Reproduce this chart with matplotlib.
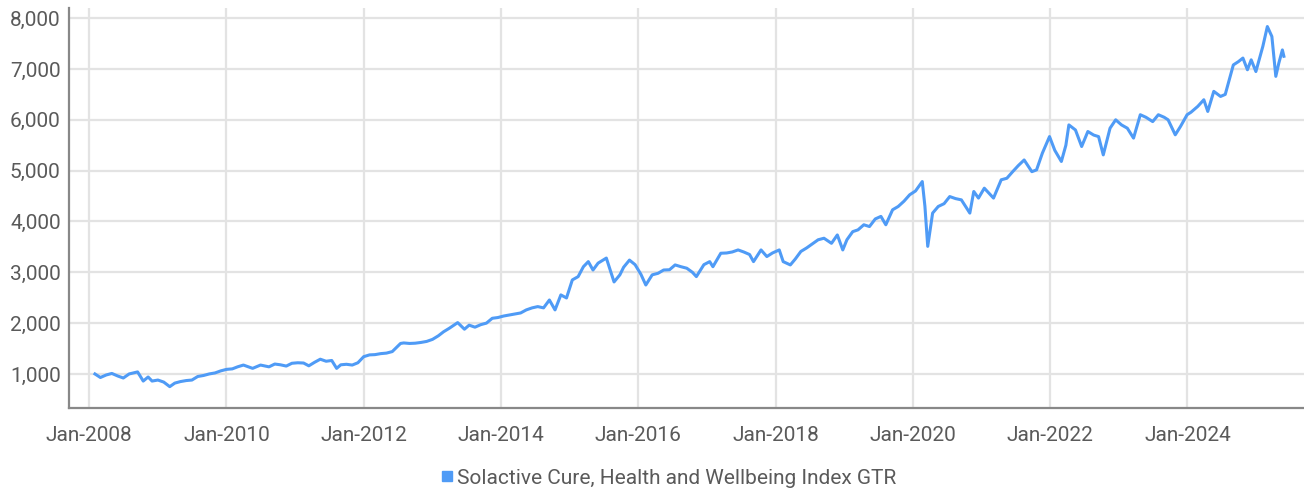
import pandas as pd
import matplotlib.pyplot as plt
import matplotlib.dates as mdates
import matplotlib.ticker as mticker
from matplotlib.lines import Line2D

# Index level (approx. monthly, extra points around sharp moves)
dates = [
    '2008-02-01', '2008-03-01', '2008-04-01', '2008-05-01', '2008-06-01', '2008-07-01',
    '2008-08-01', '2008-09-15', '2008-10-15', '2008-11-10', '2008-12-01',
    '2009-01-01', '2009-02-01', '2009-03-05', '2009-04-01', '2009-05-01', '2009-06-01',
    '2009-07-01', '2009-08-01', '2009-09-01', '2009-10-01', '2009-11-01', '2009-12-01',
    '2010-01-01', '2010-02-01', '2010-03-01', '2010-04-01', '2010-05-20', '2010-06-15',
    '2010-07-01', '2010-08-15', '2010-09-15', '2010-10-15', '2010-11-15', '2010-12-15',
    '2011-01-15', '2011-02-15', '2011-03-15', '2011-04-15', '2011-05-15', '2011-06-15',
    '2011-07-15', '2011-08-10', '2011-09-01', '2011-10-01', '2011-11-01', '2011-12-01',
    '2012-01-01', '2012-02-01', '2012-03-01', '2012-04-01', '2012-05-01', '2012-06-01',
    '2012-07-15', '2012-08-01', '2012-09-01', '2012-10-01', '2012-11-01', '2012-12-01',
    '2013-01-01', '2013-02-01', '2013-03-01', '2013-04-01', '2013-05-15', '2013-06-20',
    '2013-07-15', '2013-08-15', '2013-09-15', '2013-10-15', '2013-11-15', '2013-12-15',
    '2014-01-15', '2014-02-15', '2014-03-15', '2014-04-15', '2014-05-15', '2014-06-15',
    '2014-07-15', '2014-08-15', '2014-09-15', '2014-10-15', '2014-11-15', '2014-12-15',
    '2015-01-15', '2015-02-15', '2015-03-15', '2015-04-10', '2015-05-05', '2015-06-01',
    '2015-07-15', '2015-08-25', '2015-09-25', '2015-10-15', '2015-11-15', '2015-12-15',
    '2016-01-15', '2016-02-10', '2016-03-15', '2016-04-15', '2016-05-15', '2016-06-15',
    '2016-07-15', '2016-08-15', '2016-09-15', '2016-10-15', '2016-11-05', '2016-12-15',
    '2017-01-15', '2017-02-01', '2017-03-15', '2017-04-15', '2017-05-15', '2017-06-15',
    '2017-07-15', '2017-08-15', '2017-09-05', '2017-10-15', '2017-11-15', '2017-12-15',
    '2018-01-20', '2018-02-10', '2018-03-20', '2018-04-15', '2018-05-15', '2018-06-15',
    '2018-07-15', '2018-08-15', '2018-09-15', '2018-10-25', '2018-11-25', '2018-12-24',
    '2019-01-15', '2019-02-15', '2019-03-15', '2019-04-15', '2019-05-15', '2019-06-15',
    '2019-07-15', '2019-08-10', '2019-09-15', '2019-10-15', '2019-11-15', '2019-12-15',
    '2020-01-15', '2020-02-20', '2020-03-05', '2020-03-20', '2020-04-15', '2020-05-15',
    '2020-06-15', '2020-07-15', '2020-08-15', '2020-09-15', '2020-10-30', '2020-11-20',
    '2020-12-15', '2021-01-15', '2021-03-05', '2021-04-15', '2021-05-15', '2021-06-15',
    '2021-07-15', '2021-08-15', '2021-09-25', '2021-10-20', '2021-11-20', '2021-12-28',
    '2022-01-25', '2022-03-01', '2022-03-25', '2022-04-10', '2022-05-15', '2022-06-17',
    '2022-07-20', '2022-08-20', '2022-09-15', '2022-10-10', '2022-11-15', '2022-12-15',
    '2023-01-15', '2023-02-15', '2023-03-20', '2023-04-25', '2023-05-25', '2023-06-30',
    '2023-07-30', '2023-08-30', '2023-09-20', '2023-10-28', '2023-11-25', '2023-12-30',
    '2024-01-20', '2024-02-25', '2024-03-28', '2024-04-18', '2024-05-20', '2024-06-25',
    '2024-07-20', '2024-08-10', '2024-09-01', '2024-09-28', '2024-10-22', '2024-11-15',
    '2024-12-05', '2024-12-30', '2025-02-05', '2025-03-01', '2025-03-25', '2025-04-15',
    '2025-05-01', '2025-05-20', '2025-05-28',
]
values = [
    1000, 930, 980, 1010, 960, 920,
    1000, 1040, 860, 940, 860,
    880, 840, 750, 820, 850, 870,
    880, 950, 970, 1000, 1020, 1060,
    1090, 1100, 1140, 1175, 1110, 1150,
    1175, 1140, 1195, 1180, 1155, 1210,
    1220, 1215, 1160, 1230, 1290, 1250,
    1265, 1110, 1180, 1190, 1175, 1220,
    1340, 1375, 1380, 1400, 1410, 1440,
    1600, 1610, 1600, 1605, 1620, 1640,
    1680, 1750, 1830, 1900, 2010, 1880,
    1960, 1920, 1970, 2000, 2095, 2110,
    2140, 2160, 2180, 2200, 2260, 2300,
    2325, 2300, 2455, 2260, 2555, 2495,
    2850, 2915, 3110, 3210, 3045, 3180,
    3280, 2810, 2950, 3100, 3240, 3150,
    2960, 2750, 2950, 2980, 3045, 3050,
    3145, 3110, 3080, 3000, 2915, 3150,
    3210, 3110, 3375, 3380, 3400, 3440,
    3400, 3350, 3210, 3440, 3310, 3380,
    3440, 3210, 3145, 3260, 3410, 3480,
    3560, 3640, 3670, 3570, 3735, 3440,
    3640, 3800, 3835, 3935, 3900, 4050,
    4100, 3935, 4230, 4295, 4400, 4525,
    4600, 4785, 4300, 3510, 4165, 4295,
    4350, 4490, 4450, 4425, 4165, 4590,
    4460, 4655, 4460, 4820, 4850, 4980,
    5100, 5210, 4980, 5015, 5345, 5670,
    5400, 5180, 5500, 5900, 5800, 5475,
    5770, 5700, 5670, 5310, 5835, 6000,
    5900, 5835, 5640, 6100, 6050, 5965,
    6100, 6050, 6000, 5705, 5870, 6100,
    6150, 6265, 6395, 6165, 6560, 6460,
    6500, 6785, 7080, 7145, 7215, 6985,
    7180, 6950, 7445, 7835, 7640, 6855,
    7115, 7375, 7250,
]
series_name = 'Solactive Cure, Health and Wellbeing Index GTR'
tick_years = [2008, 2010, 2012, 2014, 2016, 2018, 2020, 2022, 2024]
y_ticks = [1000, 2000, 3000, 4000, 5000, 6000, 7000, 8000]

plt.rcParams['font.family'] = ['Roboto', 'DejaVu Sans']

line_color = '#4f9bf6'
text_color = '#5a5a5a'

x = pd.to_datetime(dates)

fig = plt.figure(figsize=(13.04, 4.93), dpi=100)
ax = fig.add_axes([69 / 1304, 1 - 408 / 493, 1 - 69 / 1304, 400 / 493])

ax.plot(x, values, color=line_color, linewidth=2.2)

ax.set_xlim(pd.Timestamp('2007-09-16'), pd.Timestamp('2025-09-12'))
ax.set_ylim(330, 8200)

ax.set_xticks([pd.Timestamp(f'{yr}-01-01') for yr in tick_years])
ax.xaxis.set_major_formatter(mdates.DateFormatter('%b-%Y'))
ax.set_yticks(y_ticks)
ax.yaxis.set_major_formatter(mticker.FuncFormatter(lambda v, p: f'{int(v):,}'))

ax.grid(True, color='#e3e3e3', linewidth=1.6)
ax.set_axisbelow(True)
ax.tick_params(length=0, labelsize=15, colors=text_color)
ax.tick_params(axis='x', pad=13)
ax.tick_params(axis='y', pad=6)

for side in ['top', 'right']:
    ax.spines[side].set_visible(False)
for side in ['left', 'bottom']:
    ax.spines[side].set_color('#888888')
    ax.spines[side].set_linewidth(1.6)

handle = Line2D([], [], linestyle='none', marker='s', markersize=7,
                markerfacecolor=line_color, markeredgecolor=line_color)
fig.legend([handle], [series_name], loc='center', bbox_to_anchor=(0.512, 0.03),
           frameon=False, fontsize=15, labelcolor=text_color,
           handletextpad=0.1, handlelength=0.8)

fig.savefig('out.png', dpi=100)
